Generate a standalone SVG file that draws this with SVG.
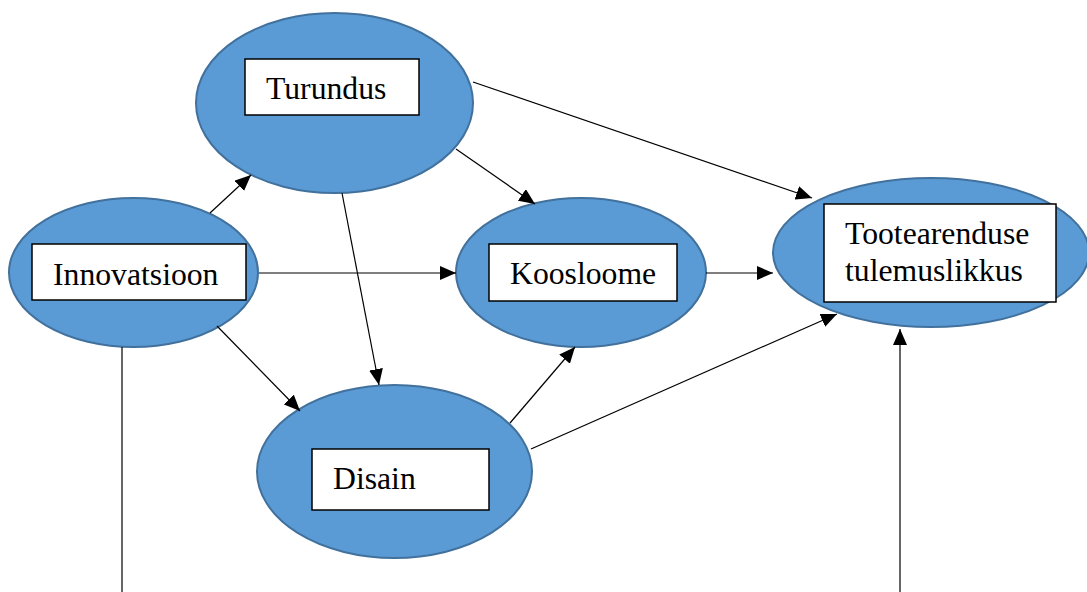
<svg xmlns="http://www.w3.org/2000/svg" width="1087" height="592" viewBox="0 0 1087 592">
  <style>
    .oval { fill: #5B9BD5; stroke: #41719C; stroke-width: 2; }
    .box { fill: #FFFFFF; stroke: #000000; stroke-width: 1.5; }
    .lbl { font-family: "Liberation Serif", "Times New Roman", serif; font-size: 31.7px; fill: #000000; }
    .edge { stroke: #000000; stroke-width: 1.2; fill: none; }
  </style>
  <defs>
    <marker id="arrow" markerUnits="userSpaceOnUse" markerWidth="16" markerHeight="14" refX="16" refY="7" orient="auto">
      <path d="M0,0 L16,7 L0,14 Z" fill="#000000"/>
    </marker>
  </defs>
  <rect width="1087" height="592" fill="#FFFFFF"/>

  <g id="node-turundus">
    <ellipse class="oval" cx="334.5" cy="103" rx="138.5" ry="90"/>
    <rect class="box" x="245" y="59" width="174" height="56"/>
    <text class="lbl" x="266" y="99">Turundus</text>
  </g>

  <g id="node-innovatsioon">
    <ellipse class="oval" cx="133.5" cy="272.5" rx="124.5" ry="74.5"/>
    <rect class="box" x="32" y="244" width="214" height="56"/>
    <text class="lbl" x="53" y="285">Innovatsioon</text>
  </g>

  <g id="node-koosloome">
    <ellipse class="oval" cx="581" cy="272.5" rx="125" ry="74.5"/>
    <rect class="box" x="489" y="244" width="188" height="57"/>
    <text class="lbl" x="510" y="284">Koosloome</text>
  </g>

  <g id="node-disain">
    <ellipse class="oval" cx="394.5" cy="471.5" rx="137.5" ry="86.5"/>
    <rect class="box" x="312" y="449" width="177" height="61"/>
    <text class="lbl" x="333" y="489">Disain</text>
  </g>

  <g id="node-tootearendus">
    <ellipse class="oval" cx="931" cy="252.5" rx="158" ry="74.5"/>
    <rect class="box" x="824" y="204" width="232" height="98"/>
    <text class="lbl" x="845" y="244">Tootearenduse</text>
    <text class="lbl" x="845" y="281">tulemuslikkus</text>
  </g>

  <g id="connectors">
    <line class="edge" x1="210" y1="213" x2="251" y2="175" marker-end="url(#arrow)"/>
    <line class="edge" x1="259" y1="273" x2="456" y2="273" marker-end="url(#arrow)"/>
    <line class="edge" x1="217" y1="326" x2="300" y2="411" marker-end="url(#arrow)"/>
    <line class="edge" x1="342" y1="193" x2="379" y2="385" marker-end="url(#arrow)"/>
    <line class="edge" x1="456" y1="149" x2="535" y2="204" marker-end="url(#arrow)"/>
    <line class="edge" x1="473" y1="82" x2="812" y2="198" marker-end="url(#arrow)"/>
    <line class="edge" x1="706" y1="273" x2="773" y2="273" marker-end="url(#arrow)"/>
    <line class="edge" x1="510" y1="423" x2="575" y2="347" marker-end="url(#arrow)"/>
    <line class="edge" x1="531" y1="449" x2="837" y2="314" marker-end="url(#arrow)"/>
    <line class="edge" x1="122" y1="347" x2="122" y2="592"/>
    <line class="edge" x1="900" y1="592" x2="900" y2="329" marker-end="url(#arrow)"/>
  </g>
</svg>
